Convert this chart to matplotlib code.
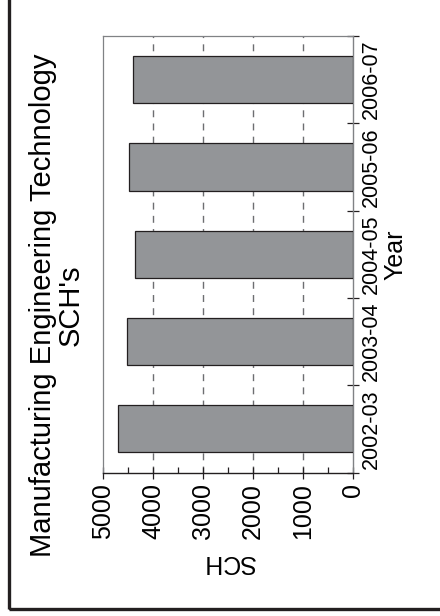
import matplotlib
matplotlib.use('Agg')
import matplotlib.pyplot as plt
import matplotlib.patches as patches
from matplotlib.ticker import MultipleLocator, FixedLocator
import numpy as np

plt.rcParams['font.family'] = ['Liberation Sans', 'DejaVu Sans']

# data
years = ['2002-03', '2003-04', '2004-05', '2005-06', '2006-07']
sch = [4700, 4520, 4350, 4480, 4390]
value_ticks = [0, 1000, 2000, 3000, 4000, 5000]

fig = plt.figure(figsize=(4.4, 6.16), dpi=100)
ax = fig.add_axes([103 / 440, 1 - 472.5 / 616, 250 / 440, 436.5 / 616])

pos = np.arange(len(years))
ax.barh(pos, sch, height=0.54, color='#939598', edgecolor='#231f20',
        linewidth=0.9, zorder=3)

# value axis (drawn at bottom, reversed so 0 sits at the right)
ax.set_xlim(5000, 0)
ax.xaxis.set_major_locator(FixedLocator(value_ticks))
ax.xaxis.set_minor_locator(MultipleLocator(500))
ax.set_xticklabels([str(v) for v in value_ticks], rotation=90)
ax.tick_params(axis='x', which='major', direction='inout', length=9, width=0.9,
               color='#231f20', labelsize=18, pad=3)
ax.tick_params(axis='x', which='minor', direction='in', length=4, width=0.9,
               color='#231f20')

# gridlines
for v in [1000, 2000, 3000, 4000]:
    ax.axvline(v, color='#6d6e71', lw=1.0, ls=(0, (5, 4.5)), zorder=1)

# category axis on the right
ax.set_ylim(-0.5, len(years) - 0.5)
ax.yaxis.tick_right()
ax.yaxis.set_major_locator(FixedLocator(np.arange(len(years) + 1) - 0.5))
ax.yaxis.set_minor_locator(FixedLocator(pos))
ax.yaxis.set_major_formatter(plt.NullFormatter())
ax.set_yticks(pos, minor=True)
ax.set_yticklabels(years, minor=True, rotation=90, va='center')
ax.tick_params(axis='y', which='major', direction='inout', length=8, width=0.9,
               color='#231f20', right=True, left=False)
ax.tick_params(axis='y', which='minor', length=0, labelsize=15.5, pad=6,
               right=True, left=False, labelright=True, labelleft=False)

for side in ['top', 'left']:
    ax.spines[side].set_color('#808285')
    ax.spines[side].set_linewidth(0.9)
ax.spines['right'].set_color('#808285')
ax.spines['right'].set_linewidth(1.0)
ax.spines['bottom'].set_color('#231f20')
ax.spines['bottom'].set_linewidth(1.0)

# axis labels
ax.set_xlabel('SCH', fontsize=18, rotation=180, va='center', ha='center')
ax.xaxis.set_label_coords(0.5, -0.205)
ax.yaxis.set_label_position('right')
ax.set_ylabel('Year', fontsize=18, rotation=90, va='center', ha='center')
ax.yaxis.set_label_coords(1.168, 0.5)

# title
fig.text(57 / 440, 1 - 305 / 616, "Manufacturing Engineering Technology\nSCH's",
         rotation=90, ha='center', va='center', fontsize=21, linespacing=1.0,
         multialignment='center')

# outer frame
frame = patches.Rectangle((8.5 / 440, 1 - 609 / 616), 1.2, 1.2,
                          transform=fig.transFigure, fill=False,
                          edgecolor='#231f20', linewidth=2.4, clip_on=False)
fig.patches.append(frame)

fig.savefig('out.png', dpi=100)
